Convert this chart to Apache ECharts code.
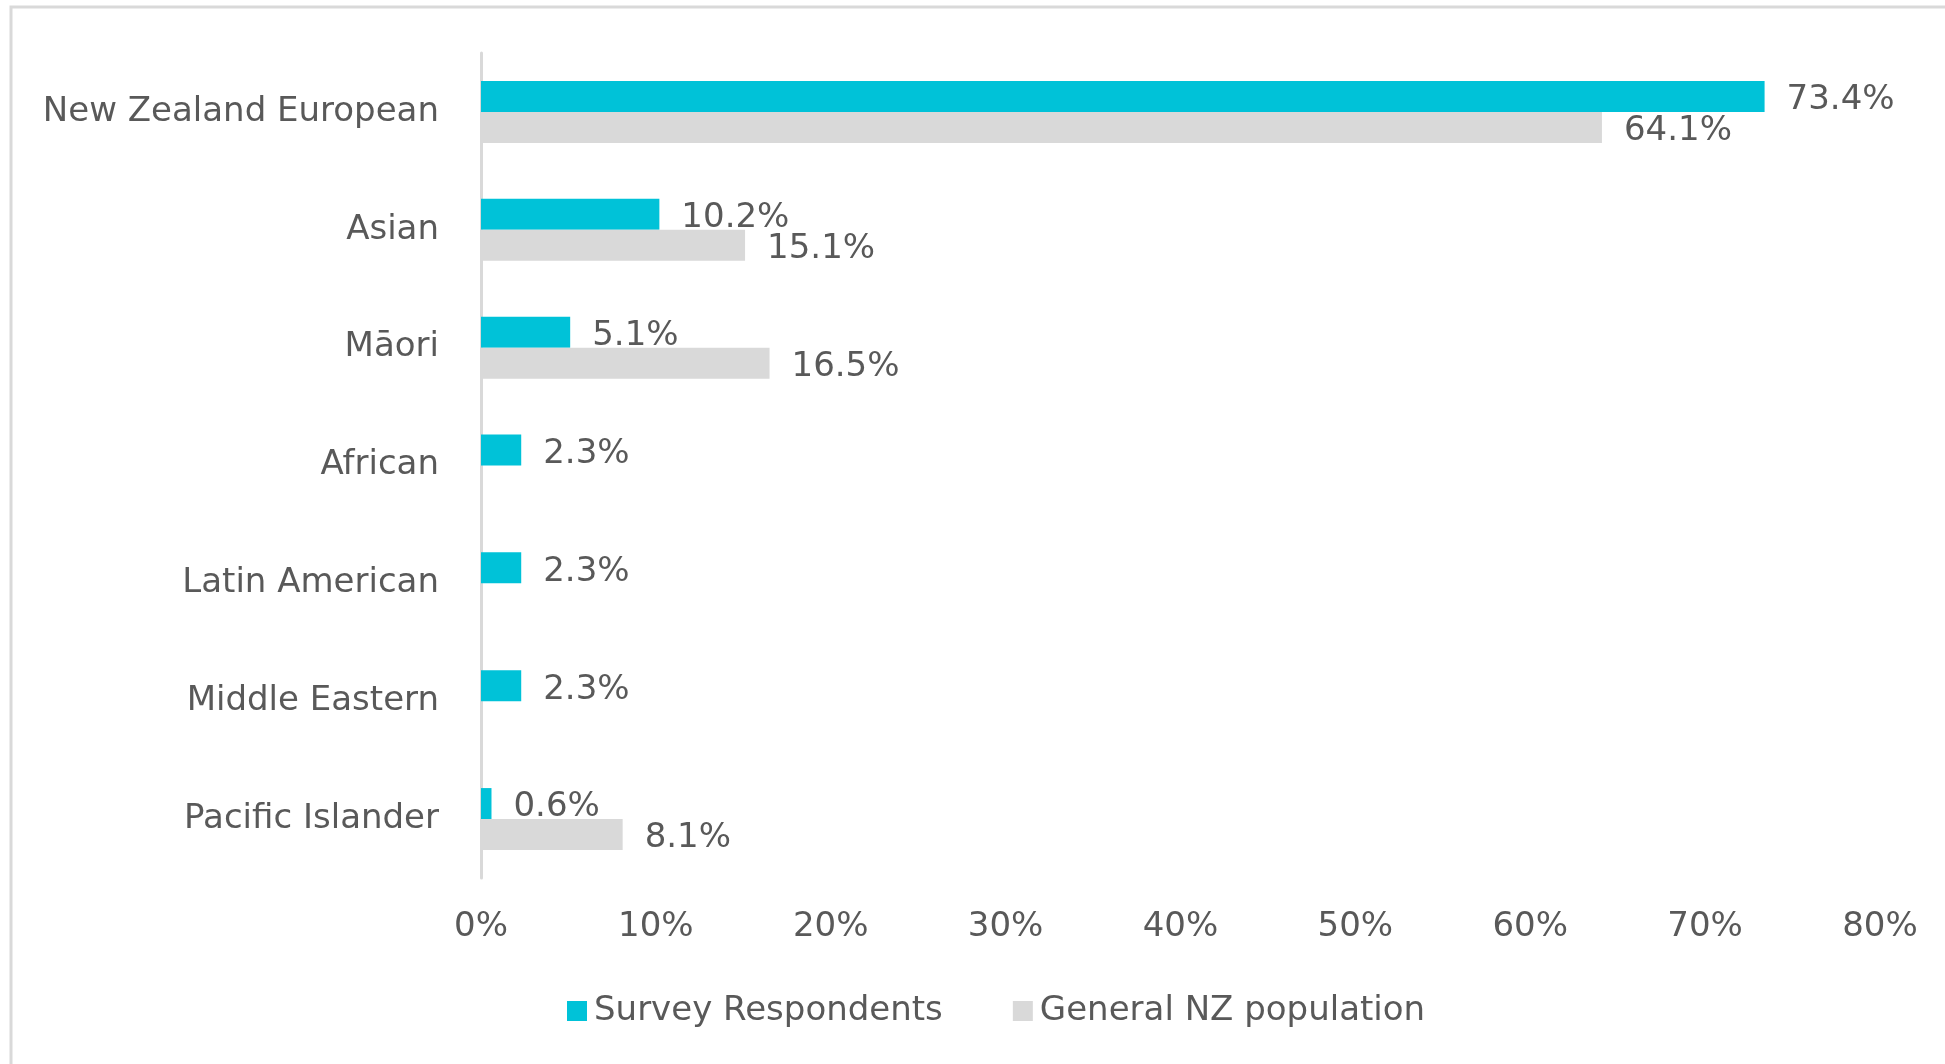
<!DOCTYPE html>
<html>
<head>
<meta charset="utf-8">
<title>Ethnicity of survey respondents vs NZ population</title>
<script src="https://cdn.jsdelivr.net/npm/echarts@6/dist/echarts.min.js"></script>
<style>
  html, body { margin: 0; padding: 0; background: #ffffff; }
  #chart { width: 1945px; height: 1064px; }
</style>
</head>
<body>
<div id="chart"></div>
<script>
// Ethnic groups, top to bottom
const categories = [
  'New Zealand European',
  'Asian',
  'Māori',
  'African',
  'Latin American',
  'Middle Eastern',
  'Pacific Islander'
];

// Share of each group (%)
const surveyRespondents = [73.4, 10.2, 5.1, 2.3, 2.3, 2.3, 0.6];
const generalPopulation = [64.1, 15.1, 16.5, null, null, null, 8.1];

const seriesNames = ['Survey Respondents', 'General NZ population'];

// Value axis range
const axisMin = 0;
const axisMax = 80;
const axisStep = 10;

const TEXT = '#595959';
const FONT = 'DejaVu Sans';

const chart = echarts.init(document.getElementById('chart'));

const valueLabel = {
  show: true,
  position: 'right',
  distance: 22,
  offset: [0, 4],
  color: TEXT,
  fontFamily: FONT,
  fontSize: 34,
  formatter: p => p.value == null ? '' : p.value.toFixed(1) + '%'
};

chart.setOption({
  backgroundColor: '#ffffff',
  animation: false,
  textStyle: { fontFamily: FONT },
  graphic: [{
    type: 'rect',
    shape: { x: 11, y: 7, width: 2400, height: 2400 },
    style: { fill: 'none', stroke: '#d9d9d9', lineWidth: 3 },
    silent: true,
    z: -10
  }],
  grid: {
    left: 481,
    right: 65,
    top: 53,
    bottom: 186
  },
  legend: {
    left: 562,
    top: 989,
    itemWidth: 20,
    itemHeight: 20,
    itemGap: 70,
    icon: 'rect',
    textStyle: { color: TEXT, fontFamily: FONT, fontSize: 34, padding: [0, 0, 0, 2] },
    data: seriesNames
  },
  xAxis: {
    type: 'value',
    min: axisMin,
    max: axisMax,
    interval: axisStep,
    axisLine: { show: false },
    axisTick: { show: false },
    splitLine: { show: false },
    axisLabel: {
      color: TEXT,
      fontFamily: FONT,
      fontSize: 34,
      margin: 32,
      formatter: '{value}%'
    }
  },
  yAxis: {
    type: 'category',
    inverse: true,
    data: categories,
    axisLine: { show: true, lineStyle: { color: '#d9d9d9', width: 3 } },
    axisTick: { show: false },
    axisLabel: {
      color: TEXT,
      fontFamily: FONT,
      fontSize: 34,
      margin: 42
    }
  },
  series: [
    {
      name: seriesNames[0],
      type: 'bar',
      data: surveyRespondents,
      barWidth: 31,
      barGap: '0%',
      itemStyle: { color: '#00c2d8' },
      label: valueLabel
    },
    {
      name: seriesNames[1],
      type: 'bar',
      data: generalPopulation,
      barWidth: 31,
      barGap: '0%',
      itemStyle: { color: '#d9d9d9' },
      label: valueLabel
    }
  ]
});
</script>
</body>
</html>
